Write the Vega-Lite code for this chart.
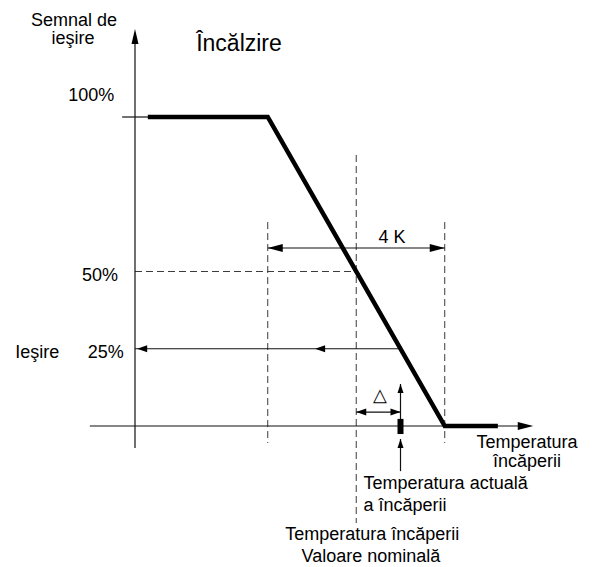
{
  "$schema": "https://vega.github.io/schema/vega-lite/v6.json",
  "width": 594,
  "height": 567,
  "autosize": {"type": "fit", "contains": "padding"},
  "padding": 0,
  "background": "white",
  "config": {"view": {"stroke": null}, "font": "Liberation Sans"},
  "datasets": {
    "curve": [
      {"t": 0.29, "s": 100},
      {"t": 3, "s": 100},
      {"t": 7, "s": 0},
      {"t": 8.2, "s": 0}
    ],
    "solid": [
      {"name": "y-axis", "t": 0, "s": -7.1, "t2": 0, "s2": 124},
      {"name": "x-axis", "t": -1.02, "s": 0, "t2": 8.7, "s2": 0},
      {"name": "tick100", "t": -0.29, "s": 100, "t2": 0.3, "s2": 100},
      {"name": "out25", "t": 0, "s": 25, "t2": 6, "s2": 25},
      {"name": "4K", "t": 3, "s": 57.6, "t2": 7, "s2": 57.6},
      {"name": "delta", "t": 5, "s": 4.5, "t2": 6, "s2": 4.5},
      {"name": "actual-up", "t": 6, "s": 0, "t2": 6, "s2": 13.6},
      {"name": "actual-low", "t": 6, "s": -14.6, "t2": 6, "s2": -4.2}
    ],
    "dashed": [
      {"t": 3, "s": 66, "t2": 3, "s2": -5.5},
      {"t": 5, "s": 87.7, "t2": 5, "s2": -31.4},
      {"t": 7, "s": 66, "t2": 7, "s2": -5.5},
      {"t": 0, "s": 50, "t2": 5, "s2": 50}
    ],
    "marker": [
      {"t": 6, "s": 2.3, "s2": -2.6}
    ],
    "heads": [
      {"t": 0, "s": 128.5, "head": "axis-up"},
      {"t": 9.0, "s": 0, "head": "axis-right"},
      {"t": 0.05, "s": 25, "head": "dim-left"},
      {"t": 4.07, "s": 25, "head": "dim-left"},
      {"t": 3, "s": 57.6, "head": "k-left"},
      {"t": 7, "s": 57.6, "head": "k-right"},
      {"t": 5, "s": 4.5, "head": "dim-left"},
      {"t": 6, "s": 4.5, "head": "dim-right"},
      {"t": 6, "s": 13.6, "head": "dim-up"},
      {"t": 6, "s": -4.2, "head": "dim-up"}
    ],
    "labels": [
      {"t": -1.38, "s": 131.1, "label": "Semnal de"},
      {"t": -1.40, "s": 125.2, "label": "ieşire"},
      {"t": -0.99, "s": 106.8, "label": "100%"},
      {"t": -0.79, "s": 48.5, "label": "50%"},
      {"t": -0.66, "s": 23.6, "label": "25%"},
      {"t": -2.21, "s": 23.6, "label": "Ieşire"},
      {"t": 5.81, "s": 60.8, "label": "4 K"},
      {"t": 5.54, "s": 9.7, "label": "△"},
      {"t": 8.86, "s": -5.5, "label": "Temperatura"},
      {"t": 8.86, "s": -11.65, "label": "încăperii"},
      {"t": 7.02, "s": -18.8, "label": "Temperatura actuală"},
      {"t": 6.10, "s": -25.9, "label": "a încăperii"},
      {"t": 5.36, "s": -35.3, "label": "Temperatura încăperii"},
      {"t": 5.33, "s": -42.4, "label": "Valoare nominală"}
    ],
    "title": [
      {"t": 2.35, "s": 123.5, "label": "Încălzire"}
    ]
  },
  "encoding": {
    "x": {"field": "t", "type": "quantitative", "axis": null,
          "scale": {"domain": [-3.0508, 10.3729], "nice": false, "zero": false}},
    "y": {"field": "s", "type": "quantitative", "axis": null,
          "scale": {"domain": [-45.631, 137.864], "nice": false, "zero": false}}
  },
  "layer": [
    {
      "data": {"name": "dashed"},
      "mark": {"type": "rule", "color": "#3a3a3a", "strokeWidth": 1, "strokeDash": [7, 4]},
      "encoding": {"x2": {"field": "t2"}, "y2": {"field": "s2"}}
    },
    {
      "data": {"name": "solid"},
      "mark": {"type": "rule", "color": "#111111", "strokeWidth": 1.2},
      "encoding": {"x2": {"field": "t2"}, "y2": {"field": "s2"}}
    },
    {
      "data": {"name": "curve"},
      "mark": {"type": "line", "color": "black", "strokeWidth": 4.5, "strokeJoin": "miter", "strokeCap": "butt"},
      "encoding": {}
    },
    {
      "data": {"name": "marker"},
      "mark": {"type": "rule", "color": "black", "strokeWidth": 6, "strokeCap": "butt"},
      "encoding": {"y2": {"field": "s2"}}
    },
    {
      "data": {"name": "heads"},
      "mark": {"type": "point", "filled": true, "color": "black", "opacity": 1, "size": 100, "strokeWidth": 0},
      "encoding": {
        "shape": {"field": "head", "type": "nominal", "legend": null,
          "scale": {
            "domain": ["axis-up", "axis-right", "dim-left", "dim-right", "dim-up", "k-left", "k-right"],
            "range": [
              "M0,0L-0.7,3L0.7,3Z",
              "M0,0L-3.1,-0.8L-3.1,0.8Z",
              "M0,0L2,-0.7L2,0.7Z",
              "M0,0L-2,-0.7L-2,0.7Z",
              "M0,0L-0.6,1.8L0.6,1.8Z",
              "M0,0L3,-0.8L3,0.8Z",
              "M0,0L-3,-0.8L-3,0.8Z"
            ]
          }}
      }
    },
    {
      "data": {"name": "labels"},
      "mark": {"type": "text", "fontSize": 18, "color": "black", "align": "center", "baseline": "middle"},
      "encoding": {"text": {"field": "label"}}
    },
    {
      "data": {"name": "title"},
      "mark": {"type": "text", "fontSize": 23, "color": "black", "align": "center", "baseline": "middle"},
      "encoding": {"text": {"field": "label"}}
    }
  ]
}
